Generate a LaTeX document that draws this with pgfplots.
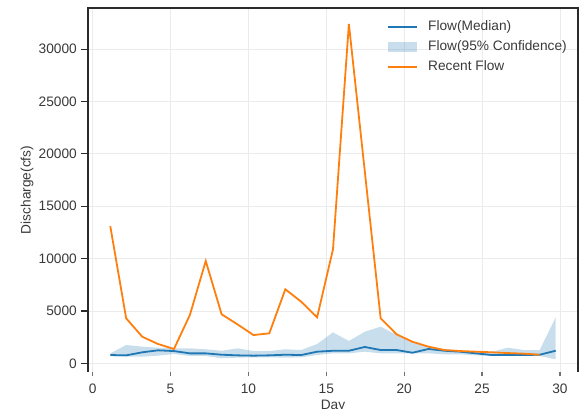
\documentclass[border=0pt]{standalone}
\usepackage{fontspec}
\setmainfont{Liberation Sans}
\usepackage{pgfplots}
\pgfplotsset{compat=1.18}
\usepgfplotslibrary{fillbetween}
\usepackage{pgfplotstable}
\definecolor{mblue}{HTML}{1F77B4}
\definecolor{morange}{HTML}{FF7F0E}
\definecolor{spine}{HTML}{2B2B2B}
\definecolor{gridc}{HTML}{EBEBEB}
\definecolor{txt}{HTML}{3A3A3A}

\pgfplotstableread{
x     med   lo    hi
1.13  790   700   950
2.15  760   630   1750
3.18  1050  630   1590
4.20  1240  730   1490
5.22  1170  890   1430
6.24  950   700   1430
7.26  950   700   1340
8.28  820   480   1200
9.30  760   540   1430
10.32 730   570   1170
11.34 760   570   1170
12.37 820   540   1340
13.39 790   570   1270
14.41 1110  790   1840
15.43 1200  950   2960
16.45 1200  950   2130
17.47 1560  1110  3020
18.49 1270  950   3500
19.51 1270  950   2700
20.53 1010  950   2060
21.56 1370  950   1590
22.58 1200  860   1340
23.60 1110  860   1200
24.62 950   760   1110
25.64 790   700   1110
26.66 790   700   1490
27.68 790   700   1270
28.70 820   700   1270
29.73 1200  380   4400
}\flow

\pgfplotstableread{
x     recent
1.13  13100
2.15  4300
3.18  2540
4.20  1840
5.22  1370
6.24  4610
7.26  9770
8.28  4680
9.30  3720
10.32 2700
11.34 2860
12.37 7070
13.39 5880
14.41 4390
15.43 10890
16.45 32400
17.47 18350
18.49 4300
19.51 2770
20.53 2060
21.56 1590
22.58 1270
23.60 1170
24.62 1110
25.64 1050
26.66 980
27.68 920
28.70 820
}\recent

\begin{document}
\fontsize{13.7pt}{16pt}\selectfont
\begin{tikzpicture}
\begin{axis}[
  at={(0pt,0pt)}, anchor=south west,
  scale only axis, width=490pt, height=364pt,
  xmin=-0.30, xmax=31.16, ymin=-830, ymax=33930,
  clip=false,
  xtick={0,5,...,30}, ytick={0,5000,...,30000},
  scaled y ticks=false, scaled x ticks=false,
  grid=major, grid style={gridc, line width=0.8pt},
  axis line style={draw=none},
  xtick pos=left, ytick pos=left,
  tick align=outside,
  major tick length=7pt,
  tick style={spine, line width=1.2pt},
  xtick style={/pgfplots/major tick length=3.5pt, color=black!55},
  /pgf/number format/assume math mode=true,
  /pgf/number format/set thousands separator={},
  ticklabel style={color=txt, font=\fontsize{13.7pt}{16pt}\selectfont},
  xticklabel style={anchor=north, inner sep=0pt, yshift=-5pt},
  yticklabel style={anchor=east, inner sep=0pt, xshift=-4pt},
  xlabel={Day}, ylabel={Discharge(cfs)},
  label style={color=txt, font=\fontsize{13.7pt}{16pt}\selectfont},
  xlabel style={at={(axis description cs:0.5,0)}, anchor=north, inner sep=0pt, yshift=-28pt},
  ylabel style={at={(axis description cs:-0.1245,0.5)}, anchor=center, inner sep=0pt},
  legend cell align=left,
  legend image code/.code={\draw (0pt,0pt) -- (29pt,0pt);},
  legend style={at={(axis description cs:1,1)}, anchor=north east,
    xshift=-10pt, yshift=-11pt, draw=none, fill=none, inner sep=0pt,
    font=\fontsize{13.7pt}{16pt}\selectfont, text=txt, row sep=5pt, column sep=9pt,
    nodes={inner sep=1pt, text height=10pt, text depth=3pt}},
]
\addlegendimage{line width=1.8pt, color=mblue}
\addlegendentry{Flow(Median)}
\addlegendimage{legend image code/.code={\path[fill=mblue, fill opacity=0.24, draw=none] (0pt,-5pt) rectangle (29pt,5pt);}}
\addlegendentry{Flow(95\% Confidence)}
\addlegendimage{line width=1.8pt, color=morange}
\addlegendentry{Recent Flow}

\addplot[draw=none, name path=hi, forget plot] table[x=x, y=hi]{\flow};
\addplot[draw=none, name path=lo, forget plot] table[x=x, y=lo]{\flow};
\addplot[fill=mblue, fill opacity=0.24, draw=none, forget plot] fill between[of=hi and lo];
\addplot[mblue, line width=1.8pt, forget plot] table[x=x, y=med]{\flow};
\addplot[morange, line width=1.8pt, forget plot] table[x=x, y=recent]{\recent};
\draw[spine, line width=1.5pt] (rel axis cs:0,0) -- (rel axis cs:0,1) -- (rel axis cs:1,1) -- (rel axis cs:1,0);
\end{axis}
\pgfresetboundingbox
\useasboundingbox (-88pt,-36pt) rectangle (496pt,372pt);
\end{tikzpicture}
\end{document}
